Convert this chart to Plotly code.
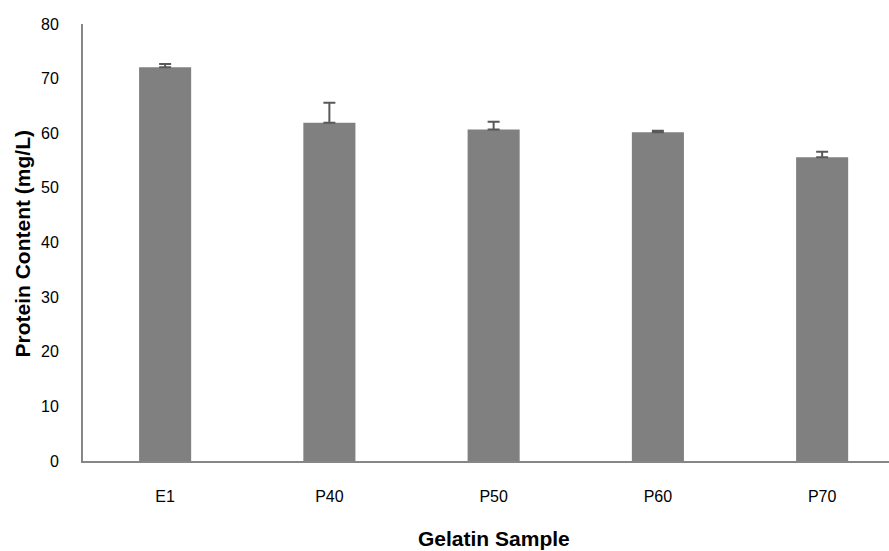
import plotly.graph_objects as go

categories = ["E1", "P40", "P50", "P60", "P70"]
values = [72.1, 61.9, 60.7, 60.2, 55.6]
errors = [0.6, 3.7, 1.4, 0.25, 1.0]
y_ticks = [0, 10, 20, 30, 40, 50, 60, 70, 80]

FONT = "Liberation Sans, Arial, sans-serif"

fig = go.Figure(go.Bar(
    x=categories, y=values,
    marker=dict(color="#808080", line=dict(width=0)),
    width=0.317,
    error_y=dict(type="data", array=errors, arrayminus=[0] * len(errors), symmetric=False,
                 color="#595959", thickness=2, width=6),
))

fig.update_layout(
    width=889, height=551,
    margin=dict(l=83, r=0, t=24, b=90),
    paper_bgcolor="white", plot_bgcolor="white",
    font=dict(family=FONT, size=16, color="black"),
    showlegend=False,
    xaxis=dict(
        range=[-0.5, 4.407], automargin=False,
        showline=True, linecolor="#868686", linewidth=2,
        ticks="", ticklabelstandoff=20,
        tickfont=dict(size=16),
    ),
    yaxis=dict(
        range=[0, 80], tickvals=y_ticks, automargin=False,
        showline=True, linecolor="#868686", linewidth=2,
        showgrid=False, zeroline=False,
        ticks="", ticklabelstandoff=19,
        tickfont=dict(size=16),
    ),
    annotations=[
        dict(text="<b>Gelatin Sample</b>", x=2, xref="x", y=0, yref="paper",
             yshift=-(538 - 461), yanchor="middle", xanchor="center", showarrow=False,
             font=dict(size=21)),
        dict(text="<b>Protein Content (mg/L)</b>", x=0, xref="paper", y=0.5, yref="paper",
             xanchor="center", yanchor="middle", xshift=-61, yshift=-2, textangle=-90,
             showarrow=False, font=dict(size=21)),
    ],
)

fig.write_html("out.html", config={"displayModeBar": False})

# remove the browser's default body margin so the figure sits at the page origin
with open("out.html", "r", encoding="utf-8") as f:
    html = f.read()
html = html.replace("<body>", '<body style="margin:0;padding:0;">', 1)
with open("out.html", "w", encoding="utf-8") as f:
    f.write(html)
